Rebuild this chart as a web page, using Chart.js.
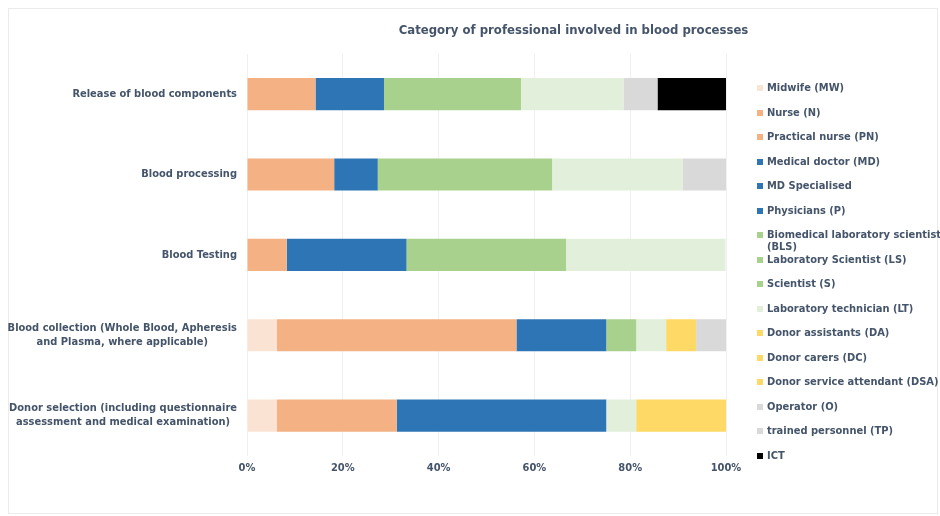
<!DOCTYPE html>
<html>
<head>
<meta charset="utf-8">
<script src="https://cdn.jsdelivr.net/npm/chart.js@4/dist/chart.umd.min.js"></script>
<style>
  html, body { margin: 0; padding: 0; background: #ffffff; }
  #wrap { position: relative; width: 940px; height: 516px; overflow: hidden; }
  #frame { position: absolute; left: 8px; top: 8px; width: 930px; height: 506px; border: 1px solid #ebebeb; box-sizing: border-box; }
  #title { position: absolute; left: 380px; width: 387px; top: 22px; text-align: center;
           font: bold 13px "DejaVu Sans Condensed", "DejaVu Sans", sans-serif; color: #44546a; }
  #legend { position: absolute; left: 0; top: 0; }
  .item { position: absolute; left: 767px; width: 180px; font: bold 11px "DejaVu Sans Condensed", "DejaVu Sans", sans-serif;
          color: #44546a; line-height: 12px; }
  .box { position: absolute; left: -10px; top: 3px; width: 6px; height: 6px; }
  canvas { position: absolute; left: 0; top: 0; }
</style>
</head>
<body>
<div id="wrap">
  <div id="frame"></div>
  <canvas id="chart" width="940" height="516"></canvas>
  <div id="title">Category of professional involved in blood processes</div>
  <div id="legend"></div>
</div>
<script>
// categories (top to bottom)
const processes = [
    'Release of blood components',
    'Blood processing',
    'Blood Testing',
    ['Blood collection (Whole Blood, Apheresis', 'and Plasma, where applicable)'],
    ['Donor selection (including questionnaire', 'assessment and medical examination)']
];

// share of each professional category, % per process
const midwife       = [0, 0, 0, 6.25, 6.25];
const nurse         = [14.3, 18.2, 8.3, 50, 25];
const practicalNurse = [0, 0, 0, 0, 0];
const medicalDoctor = [14.3, 9.1, 25, 18.75, 43.75];
const mdSpecialised = [0, 0, 0, 0, 0];
const physicians    = [0, 0, 0, 0, 0];
const biomedical    = [28.6, 36.4, 33.3, 6.25, 0];
const labScientist  = [0, 0, 0, 0, 0];
const scientist     = [0, 0, 0, 0, 0];
const labTechnician = [21.4, 27.3, 33.3, 6.25, 6.25];
const donorAssist   = [0, 0, 0, 6.25, 18.75];
const donorCarers   = [0, 0, 0, 0, 0];
const donorService  = [0, 0, 0, 0, 0];
const operator      = [7.1, 9.1, 0, 6.25, 0];
const trained       = [0, 0, 0, 0, 0];
const ict           = [14.3, 0, 0, 0, 0];

const xTicks = [0, 20, 40, 60, 80, 100];

const series = [
    { label: 'Midwife (MW)', data: midwife, color: '#fbe3d3' },
    { label: 'Nurse (N)', data: nurse, color: '#f4b183' },
    { label: 'Practical nurse (PN)', data: practicalNurse, color: '#f4b183' },
    { label: 'Medical doctor (MD)', data: medicalDoctor, color: '#2e75b6' },
    { label: 'MD Specialised', data: mdSpecialised, color: '#2e75b6' },
    { label: 'Physicians (P)', data: physicians, color: '#2e75b6' },
    { label: 'Biomedical laboratory scientist (BLS)', data: biomedical, color: '#a9d18e' },
    { label: 'Laboratory Scientist (LS)', data: labScientist, color: '#a9d18e' },
    { label: 'Scientist (S)', data: scientist, color: '#a9d18e' },
    { label: 'Laboratory technician (LT)', data: labTechnician, color: '#e2efda' },
    { label: 'Donor assistants (DA)', data: donorAssist, color: '#ffd966' },
    { label: 'Donor carers (DC)', data: donorCarers, color: '#ffd966' },
    { label: 'Donor service attendant (DSA)', data: donorService, color: '#ffd966' },
    { label: 'Operator (O)', data: operator, color: '#d9d9d9' },
    { label: 'trained personnel (TP)', data: trained, color: '#d9d9d9' },
    { label: 'ICT', data: ict, color: '#000000' }
];

const textColor = '#44546a';
const fontFamily = '"DejaVu Sans Condensed", "DejaVu Sans", sans-serif';
const labelFont = { family: fontFamily, size: 11, weight: 'bold' };

// category labels: block right-aligned to the axis, lines centred inside the block
const categoryLabels = {
    id: 'categoryLabels',
    afterDraw(chart) {
        const c = chart.ctx;
        const yScale = chart.scales.y;
        c.save();
        c.font = 'bold 11px ' + fontFamily;
        c.fillStyle = textColor;
        c.textAlign = 'center';
        c.textBaseline = 'middle';
        processes.forEach((lab, i) => {
            const lines = Array.isArray(lab) ? lab : [lab];
            const maxW = Math.max(...lines.map(l => c.measureText(l).width));
            const cx = yScale.right - 10 - maxW / 2;
            const cy = yScale.getPixelForTick(i);
            lines.forEach((l, j) => {
                c.fillText(l, cx, cy + (j - (lines.length - 1) / 2) * 14);
            });
        });
        c.restore();
    }
};

const ctx = document.getElementById('chart').getContext('2d');
const chart = new Chart(ctx, {
    type: 'bar',
    data: {
        labels: processes,
        datasets: series.map(s => ({
            label: s.label,
            data: s.data,
            backgroundColor: s.color,
            borderWidth: 0,
            categoryPercentage: 1,
            barPercentage: 0.4
        }))
    },
    options: {
        indexAxis: 'y',
        responsive: false,
        animation: false,
        layout: { padding: { left: 0, top: 54, right: 214, bottom: 35 } },
        plugins: {
            legend: { display: false },
            title: { display: false },
            tooltip: { enabled: false }
        },
        scales: {
            x: {
                stacked: true,
                min: 0,
                max: 100,
                afterBuildTicks: scale => { scale.ticks = xTicks.map(v => ({ value: v })); },
                ticks: { callback: v => v + '%', color: textColor, font: labelFont, padding: 6 },
                grid: { color: '#f0f0f0', drawTicks: false },
                border: { display: false }
            },
            y: {
                stacked: true,
                afterFit: scale => { scale.width = 247; },
                ticks: { display: false },
                grid: { display: false },
                border: { display: false }
            }
        }
    },
    plugins: [categoryLabels]
});

// legend on the right, built from the series
const legend = document.getElementById('legend');
series.forEach((s, i) => {
    const item = document.createElement('div');
    item.className = 'item';
    item.style.top = (82 + i * 24.5) + 'px';
    const box = document.createElement('span');
    box.className = 'box';
    box.style.background = s.color;
    item.appendChild(box);
    item.appendChild(document.createTextNode(s.label));
    legend.appendChild(item);
});
</script>
</body>
</html>
